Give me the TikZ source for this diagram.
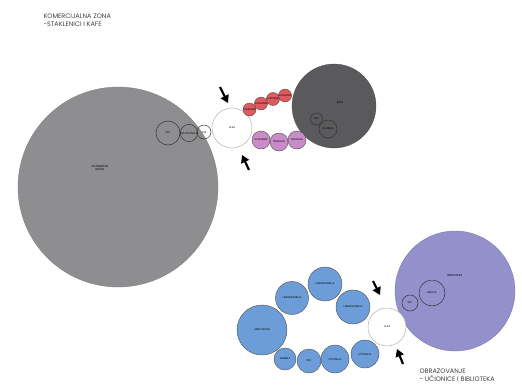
\documentclass[tikz,border=0pt]{standalone}
\usepackage{fontspec}
\setmainfont{Poppins}
\usetikzlibrary{arrows.meta}
\definecolor{gbig}{HTML}{8E8E90}
\definecolor{gdark}{HTML}{5A5A5C}
\definecolor{redc}{HTML}{E05A5E}
\definecolor{pinkc}{HTML}{C98CC8}
\definecolor{bluec}{HTML}{6C9DD8}
\definecolor{purc}{HTML}{9390CB}
\tikzset{
  circ/.style={circle, inner sep=0pt, draw=black!70, line width=0.4pt, align=center, font=\fontsize{2.6}{3}\selectfont},
  big/.style={circ, line width=0.3pt},
  inner/.style={circ, draw=black!80, line width=0.5pt},
  ulaz/.style={circ, fill=white, draw=black!30, line width=0.5pt},
  cursor/.style={-{Triangle[length=7.5pt,width=8.5pt]}, line width=2.2pt, black},
  title/.style={font=\fontsize{6.5}{8}\selectfont, align=left, anchor=north west, text=black!75}
}
\begin{document}
\begin{tikzpicture}[x=1pt,y=-1pt]
\useasboundingbox (0,0) rectangle (522,389);
% titles
\node[title] (t1) at (40,10) {KOMERCIJALNA ZONA\\-STAKLENICI I KAFE};
\node[title] (t2) at (416,365) {OBRAZOVANJE\\- UČIONICE I BIBLIOTEKA};
% commercial zone
\node[big, fill=gbig, draw=gbig!85!black, minimum size=200] (basta) at (118,187) {};
\node[font=\fontsize{2.8}{3.4}\selectfont, align=center] (bastat) at (100,168) {ZAJEDNIČKA\\BAŠTA};
\node[inner, minimum size=24] (wc1) at (168,133) {WC};
\node[inner, minimum size=16] (c1) at (189,133) {SVLAČIONICA};
\node[inner, minimum size=14] (c2) at (204,132) {TUŠ};
\node[big, fill=gdark, draw=gdark!85!black, minimum size=84] (kafe) at (334,106) {};
\node[font=\fontsize{2.8}{3.4}\selectfont] (kafet) at (340,103) {KAFE};
\node[inner, minimum size=12] (k1) at (316.5,119) {WC};
\node[inner, minimum size=18] (k2) at (328,129) {KUHINJA};
\node[ulaz, minimum size=40] (ulaz1) at (232,128) {ULAZ};
\node[circ, fill=redc, minimum size=13] (r1) at (249.5,109.5) {STAKLENIK};
\node[circ, fill=redc, minimum size=13] (r2) at (261,103.5) {STAKLENIK};
\node[circ, fill=redc, minimum size=13] (r3) at (273,99) {STAKLENIK};
\node[circ, fill=redc, minimum size=13] (r4) at (285,95.5) {STAKLENIK};
\node[circ, fill=pinkc, minimum size=18] (p1) at (261,140) {STAKLENIK};
\node[circ, fill=pinkc, minimum size=18] (p2) at (279,142) {PRODAJA};
\node[circ, fill=pinkc, minimum size=18] (p3) at (297,140) {PRODAJA};
\coordinate (a1s) at (220,87);
\coordinate (a1e) at (228,103);
\coordinate (a2s) at (249,170);
\coordinate (a2e) at (242,155);
\draw[cursor] (a1s) -- (a1e);
\draw[cursor] (a2s) -- (a2e);
% education zone
\node[big, fill=purc, draw=purc!80!black, minimum size=120] (bib) at (455,291) {};
\node[font=\fontsize{2.8}{3.4}\selectfont] (bibt) at (455,276) {BIBLIOTEKA};
\node[inner, minimum size=26] (arh) at (432,293) {ARHIVA};
\node[inner, minimum size=16] (wc3) at (410,303) {WC};
\node[ulaz, minimum size=38] (ulaz2) at (387,327) {ULAZ};
\node[circ, fill=bluec, minimum size=50] (amf) at (262,330) {AMFITEATAR};
\node[circ, fill=bluec, minimum size=33] (lab1) at (292,298) {LABORATORIJA};
\node[circ, fill=bluec, minimum size=34] (lab2) at (325,284) {LABORATORIJA};
\node[circ, fill=bluec, minimum size=34] (lab3) at (353,307) {LABORATORIJA};
\node[circ, fill=bluec, minimum size=28] (uc1) at (365,354) {UČIONICA};
\node[circ, fill=bluec, minimum size=28] (uc2) at (335,359) {UČIONICA};
\node[circ, fill=bluec, minimum size=24] (wc2) at (309,361) {WC};
\node[circ, fill=bluec, minimum size=22] (kab) at (285,359) {KABINET};
\coordinate (a3s) at (373,281);
\coordinate (a3e) at (380,295);
\coordinate (a4s) at (403,364);
\coordinate (a4e) at (397,349);
\draw[cursor] (a3s) -- (a3e);
\draw[cursor] (a4s) -- (a4e);
\end{tikzpicture}
\end{document}
